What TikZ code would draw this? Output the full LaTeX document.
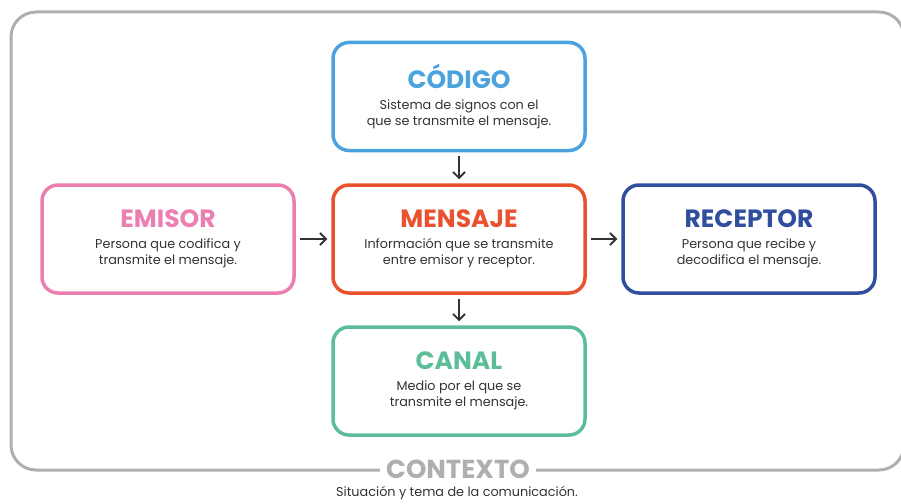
\documentclass[tikz,border=0pt]{standalone}
\usepackage{fontspec}
\setmainfont{Poppins}
\usetikzlibrary{arrows.meta}

\definecolor{codigoblue}{HTML}{4BA3DD}
\definecolor{emisorpink}{HTML}{EC7FB1}
\definecolor{mensajered}{HTML}{E9512F}
\definecolor{receptorblue}{HTML}{2F4E9E}
\definecolor{canalgreen}{HTML}{5BBE98}
\definecolor{framegray}{HTML}{AFAFAF}
\definecolor{textgray}{HTML}{333333}

\newcommand{\boxtitle}[2]{{\fontsize{25}{25}\selectfont\bfseries\color{#1}#2}\\[4pt]}

\begin{document}
\begin{tikzpicture}[x=1pt, y=-1pt, >={Straight Barb[length=6pt,width=12pt]},
  every node/.style={font=\fontsize{12.8}{16.5}\selectfont, text=textgray},
  partbox/.style={draw=#1, line width=3.5pt, rounded corners=16pt, align=center,
    minimum width=252pt, minimum height=108pt, inner sep=0pt},
  linkarrow/.style={->, line width=1.8pt, draw=textgray, shorten >=4pt, shorten <=4pt}]

  \useasboundingbox (0,0) rectangle (901,503);

  % frame
  \draw[framegray, line width=3pt, rounded corners=25pt] (11,12) rectangle (904,470);

  % positions
  \node[partbox=codigoblue] (codigo) at (459,96.5) {\boxtitle{codigoblue}{CÓDIGO}Sistema de signos con el\\que se transmite el mensaje.};
  \node[partbox=emisorpink] (emisor) at (168,239) {\boxtitle{emisorpink}{EMISOR}Persona que codifica y\\transmite el mensaje.};
  \node[partbox=mensajered] (mensaje) at (459,239) {\boxtitle{mensajered}{MENSAJE}Información que se transmite\\entre emisor y receptor.};
  \node[partbox=receptorblue] (receptor) at (749,239) {\boxtitle{receptorblue}{RECEPTOR}Persona que recibe y\\decodifica el mensaje.};
  \node[partbox=canalgreen] (canal) at (459,381) {\boxtitle{canalgreen}{CANAL}Medio por el que se\\transmite el mensaje.};

  % context label
  \node[fill=white, inner xsep=6pt, font=\fontsize{26}{26}\selectfont\bfseries, text=framegray] (contexto) at (458,469) {CONTEXTO};
  \node (situacion) at (457,493) {Situación y tema de la comunicación.};

  % arrows
  \draw[linkarrow] (codigo) -- (mensaje);
  \draw[linkarrow] (emisor) -- (mensaje);
  \draw[linkarrow] (mensaje) -- (receptor);
  \draw[linkarrow] (mensaje) -- (canal);

\end{tikzpicture}
\end{document}
